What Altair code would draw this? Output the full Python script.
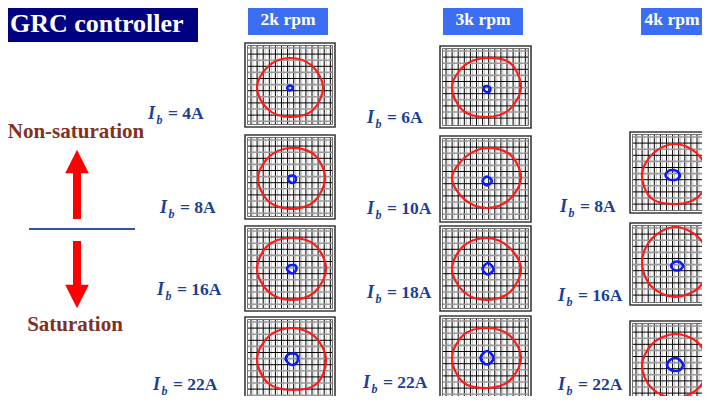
import altair as alt
import pandas as pd
import numpy as np

# ---------------- data ----------------
speeds = ["2k rpm", "3k rpm", "4k rpm"]
currents_2k = ["4A", "8A", "16A", "22A"]
currents_3k = ["6A", "10A", "18A", "22A"]
currents_4k = ["8A", "16A", "22A"]

# radii (px) of the closed trajectories at angles 0,45,...,315 deg (counter-clockwise)
angles_deg = [0, 45, 90, 135, 180, 225, 270, 315]
red_2k = [[33, 30.5, 29, 30, 33, 31.5, 30, 32.5],
          [34, 33, 30, 30.5, 33, 32.5, 31, 33],
          [35, 34, 31, 33, 34, 32, 31, 33],
          [34, 32, 31, 32.5, 35, 34, 31, 35]]
red_3k = [[35, 34, 29, 30.5, 34, 33, 30, 32.5],
          [34, 33, 30, 30, 35, 31, 30, 31],
          [34, 31, 31, 33, 35, 32.5, 31, 32.5],
          [34, 32, 30, 33, 35, 34, 30, 32]]
red_4k = [[33, 30, 30, 30, 33, 34, 30, 32.5],
          [33, 34, 35, 33, 33, 34, 35, 35],
          [33, 32, 31, 31, 33, 33, 33, 33]]
blue_2k = [[3, 2.5, 2.5, 2.5, 3, 2.5, 2.5, 2.5],
           [4, 4, 3.5, 4, 4, 3.5, 4, 4],
           [4.5, 5, 4, 4.5, 5, 4, 4.5, 4],
           [6, 6.5, 5.5, 6, 6.5, 5.5, 6, 6]]
blue_3k = [[3.5, 3, 3, 3.5, 3.5, 3, 3, 3.5],
           [5, 4, 4.5, 4, 4.5, 4, 4.5, 4],
           [5.5, 5, 6, 5, 5.5, 5, 5.5, 5],
           [6.5, 6, 7, 6, 6.5, 6, 6.5, 6]]
blue_4k = [[7, 5.5, 5, 6, 7.5, 6, 5, 6],
           [6, 5, 4.5, 5, 6, 5, 4.5, 5],
           [8, 7, 7, 7, 8, 6.5, 6, 7]]

# ---------------- layout (page pixels) ----------------
col_x = [(245, 335), (440, 531), (630, 721)]
panel_y = [[(43, 127), (135, 219), (226, 311), (317, 402)],
           [(46, 128), (136, 222), (226, 311), (316, 401)],
           [(132, 213), (223, 305), (321, 406)]]
red_c = [[(290, 87), (291, 178), (291, 269), (292, 359)],
         [(486, 87), (487, 178), (487, 269), (487, 358)],
         [(675, 174), (675, 262), (675, 365)]]
blue_c = [[(290, 88), (292, 179), (292, 269), (292, 359)],
          [(487, 89), (487, 181), (488, 269), (487, 358)],
          [(673, 175), (677, 266), (675, 365)]]
label_xy = [[(148, 119), (160, 213), (157, 295), (153, 390)],
            [(367, 123), (367, 214), (367, 298), (363, 388)],
            [(560, 212), (558, 301), (558, 390)]]
header_box = [(248, 328), (443, 523), (641, 716)]
header_text_x = [288, 483, 672]

currents = [currents_2k, currents_3k, currents_4k]
reds = [red_2k, red_3k, red_4k]
blues = [blue_2k, blue_3k, blue_4k]

XS = alt.Scale(domain=[8, 702], nice=False, zero=False)
YS = alt.Scale(domain=[8, 396], nice=False, zero=False, reverse=True)
FONT = "Liberation Serif"


def X(f="x"):
    return alt.X(f"{f}:Q", scale=XS, axis=None)


def Y(f="y"):
    return alt.Y(f"{f}:Q", scale=YS, axis=None)


# ---- boxes ----
rect_rows = [dict(x=0, x2=198, y=0, y2=42, c="#000080")]
for (a, b) in header_box:
    rect_rows.append(dict(x=a, x2=b, y=3, y2=35, c="#3b6ef3"))
rects = alt.Chart(pd.DataFrame(rect_rows)).mark_rect(clip=True).encode(
    x=X(), x2="x2:Q", y=Y(), y2="y2:Q", color=alt.Color("c:N", scale=None))

# ---- grids and borders ----
grid_rows, border_rows = [], []
for ci in range(3):
    x1, x2 = col_x[ci]
    for (y1, y2) in panel_y[ci]:
        ix1, ix2, iy1, iy2 = x1 + 3, x2 - 3, y1 + 3, y2 - 3
        xx = ix1 + 3
        while xx <= ix2 - 1:
            grid_rows.append(dict(x=xx + 2, x2=xx + 2, y=iy1, y2=iy2, c="#c4c4c4", w=1.0))
            grid_rows.append(dict(x=xx, x2=xx, y=iy1, y2=iy2, c="#000000", w=1.0))
            xx += 6.1
        yy = iy1 + 2
        k = 0
        while yy <= iy2 - 1:
            grid_rows.append(dict(x=ix1, x2=ix2, y=yy, y2=yy, c="#9a9a9a" if k % 2 == 0 else "#000000",
                                  w=1.6 if k % 2 == 0 else 1.0))
            yy += 6.1
            k += 1
        border_rows.append(dict(x=x1, x2=x2, y=y1, y2=y2, c="#3a3a3a", w=1.6))
        border_rows.append(dict(x=x1 + 2.5, x2=x2 - 2.5, y=y1 + 2.5, y2=y2 - 2.5, c="#707070", w=1.0))
grid_df = pd.DataFrame(grid_rows)
grid = alt.Chart(grid_df).mark_rule(clip=True).encode(
    x=X(), x2="x2:Q", y=Y(), y2="y2:Q",
    color=alt.Color("c:N", scale=None), strokeWidth=alt.StrokeWidth("w:Q", scale=None))
borders = alt.Chart(pd.DataFrame(border_rows)).mark_rect(fill="white", fillOpacity=0, clip=True).encode(
    x=X(), x2="x2:Q", y=Y(), y2="y2:Q",
    stroke=alt.Stroke("c:N", scale=None), strokeWidth=alt.StrokeWidth("w:Q", scale=None))

# ---- trajectories ----
def loops(radii_cols, centers, tag):
    rows = []
    for ci in range(3):
        for pi, radii in enumerate(radii_cols[ci]):
            cx, cy = centers[ci][pi]
            for i, (ang, r) in enumerate(zip(angles_deg, radii)):
                t = np.deg2rad(ang)
                rows.append(dict(x=cx + r * np.cos(t), y=cy - r * np.sin(t),
                                 panel=f"{tag}{ci}_{pi}", i=i))
    return pd.DataFrame(rows)

red_df = loops(reds, red_c, "r")
blue_df = loops(blues, blue_c, "b")
red_lines = alt.Chart(red_df).mark_line(interpolate="cardinal-closed", color="#ff1a1a",
                                        strokeWidth=2.2, clip=True).encode(
    x=X(), y=Y(), detail="panel:N", order="i:Q")
blue_lines = alt.Chart(blue_df).mark_line(interpolate="cardinal-closed", color="#0a1aff",
                                          strokeWidth=2.6, clip=True).encode(
    x=X(), y=Y(), detail="panel:N", order="i:Q")

# ---- texts ----
title = alt.Chart(pd.DataFrame([dict(x=10, y=32, t="GRC controller")])).mark_text(
    font=FONT, fontSize=26, fontWeight="bold", color="white", align="left", baseline="alphabetic").encode(
    x=X(), y=Y(), text="t:N")
hdr_df = pd.DataFrame([dict(x=hx, y=25, t=s) for hx, s in zip(header_text_x, speeds)])
headers = alt.Chart(hdr_df).mark_text(
    font=FONT, fontSize=17.5, fontWeight="bold", color="white", align="center", baseline="alphabetic").encode(
    x=X(), y=Y(), text="t:N")

side_df = pd.DataFrame([dict(x=76, y=138, t="Non-saturation"), dict(x=75, y=331, t="Saturation")])
side = alt.Chart(side_df).mark_text(
    font=FONT, fontSize=21, fontWeight="bold", color="#7f3224", align="center", baseline="alphabetic").encode(
    x=X(), y=Y(), text="t:N")

lab_rows = []
for ci in range(3):
    for pi, cur in enumerate(currents[ci]):
        lx, ly = label_xy[ci][pi]
        lab_rows.append(dict(x=lx, y=ly, xb=lx + 8.5, yb=ly + 4.5, xe=lx + 20, t="= " + cur))
lab_df = pd.DataFrame(lab_rows)
LBLUE = "#1c3f94"
lab_I = alt.Chart(lab_df).mark_text(font=FONT, fontSize=18, fontWeight="bold", fontStyle="italic",
                                    color=LBLUE, align="left", baseline="alphabetic").encode(
    x=X(), y=Y(), text=alt.value("I"))
lab_b = alt.Chart(lab_df).mark_text(font=FONT, fontSize=12, fontWeight="bold", fontStyle="italic",
                                    color=LBLUE, align="left", baseline="alphabetic").encode(
    x=X("xb"), y=Y("yb"), text=alt.value("b"))
lab_v = alt.Chart(lab_df).mark_text(font=FONT, fontSize=17.5, fontWeight="bold",
                                    color=LBLUE, align="left", baseline="alphabetic").encode(
    x=X("xe"), y=Y(), text="t:N")

# ---- arrows and divider ----
shaft_df = pd.DataFrame([dict(x=77, y=219, y2=171), dict(x=77, y=241, y2=287)])
shafts = alt.Chart(shaft_df).mark_rule(color="#ff0000", strokeWidth=8).encode(
    x=X(), y=Y(), y2="y2:Q")
head_up = alt.Chart(pd.DataFrame([dict(x=77, y=161.5)])).mark_point(
    shape="M0,-1L1,1L-1,1Z", filled=True, size=560, color="#ff0000", opacity=1).encode(x=X(), y=Y())
head_dn = alt.Chart(pd.DataFrame([dict(x=77, y=296.5)])).mark_point(
    shape="M-1,-1L1,-1L0,1Z", filled=True, size=560, color="#ff0000", opacity=1).encode(x=X(), y=Y())
divider = alt.Chart(pd.DataFrame([dict(x=29, x2=135, y=229)])).mark_rule(
    color="#2f57a8", strokeWidth=2).encode(x=X(), x2="x2:Q", y=Y())

chart = alt.layer(
    rects, grid, borders, red_lines, blue_lines, title, headers, side,
    lab_I, lab_b, lab_v, shafts, head_up, head_dn, divider
).properties(
    width=694, height=388, autosize=alt.AutoSizeParams(type="none"), padding=0, background="white"
).configure_view(stroke=None)

chart.save("out.html", embed_options={"renderer": "svg", "actions": False})
